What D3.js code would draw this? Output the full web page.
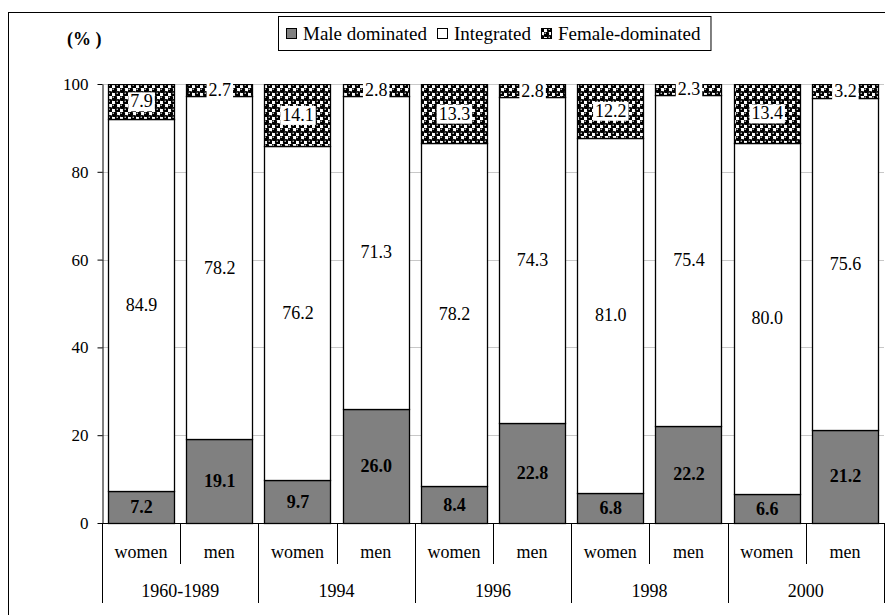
<!DOCTYPE html>
<html>
<head>
<meta charset="utf-8">
<script src="https://cdn.jsdelivr.net/npm/d3@7"></script>
<style>
    body { margin: 0; background: #fff; }
    text { font-family: "Liberation Serif", "Times New Roman", serif; }
</style>
</head>
<body>
<div id="chart"></div>
<script>
// chart values
var years = ['1960-1989', '1994', '1996', '1998', '2000'];
var sexes = ['women', 'men'];
var maleDominated = [7.2, 19.1, 9.7, 26.0, 8.4, 22.8, 6.8, 22.2, 6.6, 21.2];
var integrated = [84.9, 78.2, 76.2, 71.3, 78.2, 74.3, 81.0, 75.4, 80.0, 75.6];
var femaleDominated = [7.9, 2.7, 14.1, 2.8, 13.3, 2.8, 12.2, 2.3, 13.4, 3.2];
var seriesNames = ['Male dominated', 'Integrated', 'Female-dominated'];
var yTicks = [0, 20, 40, 60, 80, 100];

var width = 885, height = 615;
var plotL = 102, plotR = 884, plotT = 84, plotB = 523;

var svg = d3.select('#chart').append('svg')
    .attr('width', width)
    .attr('height', height);

// sphere-like pattern for female-dominated
var defs = svg.append('defs');
var pat = defs.append('pattern')
    .attr('id', 'sphere')
    .attr('patternUnits', 'userSpaceOnUse')
    .attr('width', 8).attr('height', 8);
pat.append('rect').attr('width', 8).attr('height', 8).attr('fill', '#fff');
pat.append('rect').attr('width', 4).attr('height', 4).attr('fill', '#000');
pat.append('rect').attr('x', 4).attr('y', 4).attr('width', 4).attr('height', 4).attr('fill', '#000');
pat.append('circle').attr('cx', 2).attr('cy', 2).attr('r', 3.1).attr('fill', '#000');
pat.append('circle').attr('cx', 6).attr('cy', 6).attr('r', 3.1).attr('fill', '#000');
pat.append('circle').attr('cx', 1.2).attr('cy', 1.2).attr('r', 0.7).attr('fill', '#fff');
pat.append('circle').attr('cx', 5.2).attr('cy', 5.2).attr('r', 0.7).attr('fill', '#fff');

defs.append('clipPath').attr('id', 'plotclip')
    .append('rect').attr('x', plotL - 1).attr('y', plotT).attr('width', plotR - plotL + 2).attr('height', plotB - plotT + 2);

// outer frame
svg.append('rect')
    .attr('x', 8.5).attr('y', 12.5)
    .attr('width', 900).attr('height', 620)
    .attr('fill', 'none').attr('stroke', '#000');

var bars = [];
years.forEach((yr, gi) => {
    sexes.forEach((s, si) => {
        var i = gi * 2 + si;
        bars.push({
            key: yr + '|' + s, year: yr, sex: s,
            vals: [maleDominated[i], integrated[i], femaleDominated[i]]
        });
    });
});

var x = d3.scaleBand()
    .domain(bars.map(d => d.key))
    .range([plotL, plotR])
    .paddingInner(0.156)
    .paddingOuter(0.078);

var xg = d3.scaleBand().domain(years).range([plotL, plotR]);

var y = d3.scaleLinear().domain([0, 100]).range([plotB, plotT]);

// gridlines
svg.append('g').selectAll('line')
    .data(yTicks.filter(t => t > 0))
    .join('line')
    .attr('x1', plotL).attr('x2', plotR)
    .attr('y1', d => Math.round(y(d)) + 0.5).attr('y2', d => Math.round(y(d)) + 0.5)
    .attr('stroke', '#c8c8c8');

var fills = ['#808080', '#ffffff', 'url(#sphere)'];

var segs = [];
bars.forEach(b => {
    var acc = 0;
    b.vals.forEach((v, k) => {
        segs.push({ bar: b, k: k, y0: acc, y1: acc + v, v: v });
        acc += v;
    });
});

var plot = svg.append('g').attr('clip-path', 'url(#plotclip)');
plot.selectAll('rect')
    .data(segs)
    .join('rect')
    .attr('x', d => Math.round(x(d.bar.key)) + 0.5)
    .attr('width', Math.round(x.bandwidth()))
    .attr('y', d => Math.round(y(Math.min(d.y1, 100))) + 0.5)
    .attr('height', d => Math.round(y(d.y0)) - Math.round(y(Math.min(d.y1, 100))))
    .attr('fill', d => fills[d.k])
    .attr('stroke', '#000')
    .attr('stroke-width', 1.3);

// value labels
var labels = svg.append('g');
segs.forEach(d => {
    var cx = x(d.bar.key) + x.bandwidth() / 2 + 0.5;
    var cy = (y(d.y0) + y(Math.min(d.y1, 100))) / 2;
    var g = labels.append('g');
    var t = g.append('text')
        .attr('x', cx).attr('y', cy)
        .attr('text-anchor', 'middle')
        .attr('dominant-baseline', 'central')
        .style('font-size', '18px')
        .style('font-weight', d.k === 0 ? 'bold' : 'normal')
        .text(d.v.toFixed(1));
    if (d.k === 2) {
        var bb = t.node().getBBox();
        g.insert('rect', 'text')
            .attr('x', bb.x - 2).attr('y', bb.y + 1)
            .attr('width', bb.width + 4).attr('height', bb.height - 1)
            .attr('fill', '#fff');
    }
});

// y axis
var yAxis = svg.append('g')
    .attr('transform', `translate(${plotL + 0.5},0)`)
    .call(d3.axisLeft(y).tickValues(yTicks).tickSize(5).tickSizeOuter(0).tickPadding(9));
yAxis.select('.domain').attr('stroke', '#000');
yAxis.selectAll('.tick line').attr('stroke', '#000');
yAxis.selectAll('.tick text')
    .style('font-family', '"Liberation Serif", "Times New Roman", serif')
    .style('font-size', '17px').attr('fill', '#000');

// x axis baseline and category separators
svg.append('line')
    .attr('x1', plotL).attr('x2', plotR)
    .attr('y1', plotB + 0.5).attr('y2', plotB + 0.5)
    .attr('stroke', '#000');

var bounds = years.map(yr => xg(yr)).concat([plotR]);
svg.append('g').selectAll('line')
    .data(bounds)
    .join('line')
    .attr('x1', d => Math.round(d) + 0.5).attr('x2', d => Math.round(d) + 0.5)
    .attr('y1', plotB).attr('y2', 603)
    .attr('stroke', '#000');
svg.append('g').selectAll('line')
    .data(years)
    .join('line')
    .attr('x1', d => Math.round(xg(d) + xg.bandwidth() / 2) + 0.5)
    .attr('x2', d => Math.round(xg(d) + xg.bandwidth() / 2) + 0.5)
    .attr('y1', plotB).attr('y2', 564)
    .attr('stroke', '#000');

svg.append('g').selectAll('text')
    .data(bars)
    .join('text')
    .attr('x', d => x(d.key) + x.bandwidth() / 2)
    .attr('y', 558)
    .attr('text-anchor', 'middle')
    .style('font-size', '18px')
    .text(d => d.sex);

svg.append('g').selectAll('text')
    .data(years)
    .join('text')
    .attr('x', d => xg(d) + xg.bandwidth() / 2)
    .attr('y', 597)
    .attr('text-anchor', 'middle')
    .style('font-size', '18px')
    .text(d => d);

// unit label
svg.append('text')
    .attr('x', 67).attr('y', 45)
    .style('font-size', '18px')
    .style('font-weight', 'bold')
    .text('(% )');

// legend
var legend = svg.append('g');
var legBox = legend.append('rect')
    .attr('x', 278.5).attr('y', 16.5)
    .attr('height', 34)
    .attr('fill', '#fff').attr('stroke', '#000');
var lx = 286;
seriesNames.forEach((name, k) => {
    legend.append('rect')
        .attr('x', lx + 0.5).attr('y', 28.5)
        .attr('width', 10).attr('height', 10)
        .attr('fill', fills[k]).attr('stroke', '#000');
    var t = legend.append('text')
        .attr('x', lx + 17).attr('y', 40)
        .style('font-size', '19px')
        .text(name);
    lx += 17 + t.node().getComputedTextLength() + 10;
});
legBox.attr('width', lx - 278);
</script>
</body>
</html>
